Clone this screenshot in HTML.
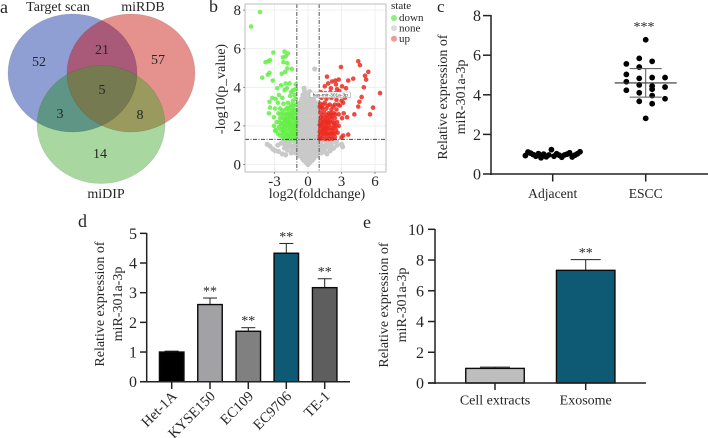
<!DOCTYPE html>
<html lang="en">
<head>
<meta charset="utf-8">
<title>miR-301a-3p expression figure</title>
<style>
html,body{margin:0;padding:0;background:#fff;width:708px;height:438px;overflow:hidden}
svg{display:block;font-family:"Liberation Serif",serif;fill:#333;filter:blur(.3px)}
text{fill:#262626}
</style>
</head>
<body>
<svg id="fig" width="708" height="438" viewBox="0 0 708 438" xmlns="http://www.w3.org/2000/svg">
  <defs>
    <clipPath id="clip-blue"><ellipse cx="72.5" cy="73" rx="64.5" ry="59"/></clipPath>
    <clipPath id="clip-red"><ellipse cx="131" cy="73" rx="64" ry="59"/></clipPath>
    <clipPath id="clip-green"><ellipse cx="101" cy="124.5" rx="64" ry="59"/></clipPath>
  </defs>
  <rect width="708" height="438" fill="#fff"/>

  <g id="panel-a">
    <text x="0" y="13" font-size="18">a</text>
    <ellipse cx="72.5" cy="73" rx="64.5" ry="59" fill="#8f9fd4"/>
    <ellipse cx="131" cy="73" rx="64" ry="59" fill="#e5928e"/>
    <ellipse cx="101" cy="124.5" rx="64" ry="59" fill="#a8d8a0"/>
    <g clip-path="url(#clip-blue)">
      <ellipse cx="131" cy="73" rx="64" ry="59" fill="#a85a78"/>
      <ellipse cx="101" cy="124.5" rx="64" ry="59" fill="#5f9585"/>
    </g>
    <g clip-path="url(#clip-red)">
      <ellipse cx="101" cy="124.5" rx="64" ry="59" fill="#9a9a5f"/>
      <g clip-path="url(#clip-blue)">
        <ellipse cx="101" cy="124.5" rx="64" ry="59" fill="#757a50"/>
      </g>
    </g>
    <g fill="none" stroke="#000" stroke-opacity=".1" stroke-width=".8">
      <ellipse cx="72.5" cy="73" rx="64.5" ry="59"/>
      <ellipse cx="131" cy="73" rx="64" ry="59"/>
      <ellipse cx="101" cy="124.5" rx="64" ry="59"/>
    </g>
    <g font-size="14" text-anchor="middle">
      <text x="58" y="11">Target scan</text>
      <text x="143" y="11">miRDB</text>
      <text x="106" y="198">miDIP</text>
      <text x="39" y="66">52</text>
      <text x="102" y="54">21</text>
      <text x="158" y="64">57</text>
      <text x="102" y="94">5</text>
      <text x="60" y="118">3</text>
      <text x="140" y="119">8</text>
      <text x="100" y="158">14</text>
    </g>
  </g>

  <g id="panel-b">
    <text x="209" y="12" font-size="18">b</text>
    <g id="b-grid"></g>
    <g id="b-none"></g>
    <g id="b-down"></g>
    <g id="b-up"></g>
    <g id="b-thresholds"></g>
    <rect x="245" y="4" width="141" height="168" fill="none" stroke="#bdbdbd" stroke-width="1"/>
    <g>
      <rect x="310" y="92" width="40.5" height="5.6" rx="1" fill="#fff" stroke="#aaa" stroke-width=".6"/>
      <text x="330.2" y="96.6" font-size="4.8" text-anchor="middle" style="font-family:'Liberation Sans',sans-serif">has-mir-301a-3p</text>
    </g>
    <g id="b-ticks" font-size="15"></g>
    <text x="317" y="198" font-size="14" text-anchor="middle">log2(foldchange)</text>
    <text transform="translate(225,89) rotate(-90)" font-size="14" text-anchor="middle">-log10(p_value)</text>
    <g font-size="11">
      <text x="391" y="9">state</text>
      <circle cx="394" cy="18" r="3" fill="#8cf07a"/>
      <text x="399" y="21">down</text>
      <circle cx="394" cy="28.3" r="3" fill="#dcdcdc"/>
      <text x="399" y="31.5">none</text>
      <circle cx="394" cy="38.7" r="3" fill="#ee9a96"/>
      <text x="399" y="42">up</text>
    </g>
  </g>

  <g id="panel-c">
    <text x="437" y="12" font-size="17">c</text>
    <g id="c-axes"></g>
    <g id="c-points"></g>
    <text transform="translate(447,97) rotate(-90)" font-size="14" text-anchor="middle">Relative expression of</text>
    <text transform="translate(465,97) rotate(-90)" font-size="14" text-anchor="middle">miR-301a-3p</text>
    <text x="644" y="31" font-size="14" text-anchor="middle">***</text>
  </g>

  <g id="panel-d">
    <text x="78" y="227" font-size="18">d</text>
    <g id="d-bars"></g>
    <g id="d-axes"></g>
    <text transform="translate(104,304) rotate(-90)" font-size="14" text-anchor="middle">Relative expression of</text>
    <text transform="translate(122,304) rotate(-90)" font-size="14" text-anchor="middle">miR-301a-3p</text>
  </g>

  <g id="panel-e">
    <text x="363" y="228" font-size="18">e</text>
    <g id="e-bars"></g>
    <g id="e-axes"></g>
    <text transform="translate(388,305) rotate(-90)" font-size="14" text-anchor="middle">Relative expression of</text>
    <text transform="translate(406,305) rotate(-90)" font-size="14" text-anchor="middle">miR-301a-3p</text>
  </g>
</svg>

<script>
/* ---------- Panel b: volcano data as [log2(foldchange), -log10(p)] ---------- */
const volcanoXTicks = [-3, 0, 3, 6];
const volcanoYTicks = [0, 2, 4, 6, 8];
const volcanoFcCutoffs = [-1, 1];
const volcanoPCutoff = 1.3;
const downPoints = [
[-5.1,7.15],[-4.3,7.9],[-3.1,5.8],[-3.8,5.3],[-3.55,5.35],[-3.4,5.4],[-2.1,5.85],[-1.8,5.75],[-2,5.6],[-2.25,5.55],
[-2.2,5.3],[-1.85,5.25],[-1.45,4.95],[-1.85,4.98],[-2.05,4.8],[-2.35,4.7],[-3.45,4.75],[-3.6,4.65],[-4.1,4.5],[-3.15,4.35],
[-1.1,4.15],[-1.65,4.2],[-2,4.2],[-2.4,4.1],[-1.1,3.9],[-1.35,3.85],[-1.5,3.75],[-1.9,3.95],[-2.1,3.85],[-2.75,3.95],
[-1.2,3.6],[-1.6,3.55],[-2.6,3.6],[-2.3,3.45],[-2.9,3.4],[-3.2,3.45],[-3.45,3.25],[-2.7,3.2],[-2.2,3.15],[-1.8,3.2],
[-1.35,3.3],[-1.1,3.1],[-3.4,2.95],[-2.95,2.9],[-2.5,2.9],[-2,2.85],[-1.6,2.95],[-1.25,2.85],[-3.5,2.65],[-2.65,2.65],
[-2.2,2.6],[-1.85,2.6],[-1.5,2.65],[-1.15,2.6],[-3.05,2.45],[-2.5,2.4],[-2.05,2.35],[-1.7,2.35],[-1.35,2.4],[-1.1,2.3],
[-2.8,2.2],[-2.3,2.15],[-1.9,2.15],[-1.55,2.15],[-1.2,2.1],[-3.05,2],[-2.6,1.95],[-2.15,1.95],[-1.75,1.95],[-1.4,1.95],
[-1.1,1.9],[-2.85,1.8],[-2.45,1.8],[-2.05,1.75],[-1.65,1.75],[-1.3,1.75],[-2.7,1.6],[-2.3,1.6],[-1.9,1.6],[-1.55,1.6],
[-1.2,1.6],[-2.95,1.75],[-2.5,1.5],[-2.1,1.48],[-1.75,1.45],[-1.4,1.45],[-1.1,1.42],[-1.95,1.35],[-1.6,1.33],[-1.25,1.33],
[-2.25,1.38],[-1.05,1.7],[-1.05,2.05],[-1.45,2.55],[-1.05,2.8],[-1.9,2.4],[-2.45,2.6],[-1.3,3.05],[-1.7,2.75],[-1.1,1.55],
[-1.25,1.5],[-1.5,1.5],[-1.85,1.52],[-2.2,1.7],[-1.45,1.68],[-1.15,1.8],[-1.5,1.85],[-1.85,1.85],[-2.25,1.85],[-1.25,2],
[-1.6,2.05],[-2,2.05],[-2.4,2.05],[-1.05,2.2],[-1.35,2.25],[-1.7,2.2],[-2.1,2.2],[-2.55,2.2],[-1.2,2.4],[-1.55,2.45],
[-1.85,2.3],[-2.25,2.4],[-1.25,2.65],[-1.6,2.55],[-2,2.6],[-1.4,2.8],[-1.85,2.95],[-2.3,2.8],[-1.1,3.4],[-1.5,3.1]
];
const upPoints = [
[4.5,5.35],[4.65,5.15],[2.95,5.05],[5.4,4.8],[5.1,4.6],[5.2,4.4],[1.7,4.55],[6.45,3.7],[5.82,2.95],[5.55,2.6],
[4.15,2.6],[4.8,3.5],[4.6,3.25],[4.5,3],[5,4],[4.05,4.45],[3.6,4.35],[2.75,4.4],[2.45,4.35],[2.15,4.3],
[1.8,4.2],[2.5,4.15],[1.5,4.05],[2.05,3.95],[2.6,3.9],[3.05,4.05],[3.4,3.95],[1.15,3.75],[1.55,3.7],[2,3.75],
[2.45,3.7],[2.85,3.65],[3.3,3.45],[1.2,3.45],[1.65,3.4],[2.1,3.45],[2.55,3.35],[3,3.3],[1.1,3.15],[1.5,3.2],
[1.95,3.1],[2.4,3.1],[2.85,3.05],[1.2,2.95],[1.65,2.9],[2.1,2.85],[2.55,2.85],[3.2,2.65],[3.5,2.45],[1.1,2.7],
[1.45,2.7],[1.85,2.65],[2.3,2.65],[2.75,2.6],[1.15,2.45],[1.55,2.45],[1.95,2.45],[2.4,2.4],[3.05,2.4],[1.1,2.25],
[1.45,2.25],[1.8,2.25],[2.2,2.2],[2.6,2.2],[1.2,2.05],[1.55,2.05],[1.9,2.05],[2.3,2],[2.75,2],[1.1,1.85],
[1.4,1.85],[1.75,1.85],[2.1,1.8],[2.5,1.8],[1.2,1.65],[1.55,1.65],[1.9,1.65],[2.25,1.62],[2.65,1.65],[1.05,1.48],
[1.35,1.48],[1.7,1.48],[2.05,1.45],[2.4,1.42],[3.15,1.5],[3.6,1.55],[3,1.4],[1.2,1.35],[1.55,1.33],[1.9,1.33],
[2.2,1.34],[1.05,2.05],[1.05,1.7],[1.3,2.9],[1.75,2.15],[2.15,2.55],[1.35,1.75],[1.6,1.95],[1.05,3],[1.9,3.55],
[1.05,1.35],[1.4,1.6],[1.75,1.58],[2.1,1.6],[2.4,1.6],[1.3,1.95],[1.6,1.78],[1.95,1.9],[2.25,1.85],[2.5,2],
[1.3,2.15],[1.6,2.2],[1.95,2.2],[2.35,2.15],[1.3,2.35],[1.7,2.35],[2.1,2.4],[2.45,2.6],[1.3,2.55],[1.7,2.55],
[2.05,2.65],[1.35,3.1],[1.75,3.05],[2.25,3],[1.4,3.6],[1.75,3.6],[2.2,3.6],[2.8,3.8],[3.15,3.2],[2.7,3.1]
];
const nonePoints = [
[0,0],[-.15,.1],[.15,.1],[-.35,.2],[0,.2],[.35,.2],[-.5,.3],[-.15,.3],[.2,.3],[.5,.3],
[-.8,.45],[-.4,.45],[0,.45],[.4,.45],[.8,.45],[-1.1,.6],[-.7,.6],[-.3,.6],[.1,.6],[.5,.6],[.9,.6],[1.2,.6],
[-1.4,.8],[-1,.8],[-.6,.8],[-.2,.8],[.2,.8],[.6,.8],[1,.8],[1.4,.8],
[-1.6,1],[-1.2,1],[-.8,1],[-.4,1],[0,1],[.4,1],[.8,1],[1.2,1],[1.6,1],
[-1.6,1.2],[-1.2,1.2],[-.8,1.2],[-.4,1.2],[0,1.2],[.4,1.2],[.8,1.2],[1.2,1.2],[1.6,1.2],
[-.85,1.4],[-.5,1.4],[-.15,1.4],[.2,1.4],[.55,1.4],[.88,1.4],
[-.85,1.6],[-.5,1.6],[-.15,1.6],[.2,1.6],[.55,1.6],[.88,1.6],
[-.85,1.8],[-.5,1.8],[-.15,1.8],[.2,1.8],[.55,1.8],[.88,1.8],
[-.85,2],[-.5,2],[-.15,2],[.2,2],[.55,2],[.88,2],
[-.85,2.2],[-.5,2.2],[-.15,2.2],[.2,2.2],[.55,2.2],[.88,2.2],
[-.85,2.4],[-.5,2.4],[-.15,2.4],[.2,2.4],[.55,2.4],[.88,2.4],
[-.85,2.6],[-.5,2.6],[-.15,2.6],[.2,2.6],[.55,2.6],[.88,2.6],
[-.85,2.8],[-.5,2.8],[-.15,2.8],[.2,2.8],[.55,2.8],[.88,2.8],
[-.8,3],[-.45,3],[-.1,3],[.25,3],[.6,3],[.88,3],
[-.7,3.2],[-.35,3.2],[0,3.2],[.35,3.2],[.7,3.2],
[-.55,3.4],[-.2,3.4],[.15,3.4],[.5,3.4],[-.45,3.6],[-.05,3.6],[.3,3.6],[-.3,3.8],[.15,3.78],
[.6,4.95],[-.35,3.95],[.7,3.6],
[-.67,1.5],[-.32,1.5],[.02,1.5],[.37,1.5],[.72,1.5],[-.67,1.9],[-.32,1.9],[.02,1.9],[.37,1.9],[.72,1.9],
[-.67,2.3],[-.32,2.3],[.02,2.3],[.37,2.3],[.72,2.3],[-.67,2.7],[-.32,2.7],[.02,2.7],[.37,2.7],[.72,2.7],
[-.6,3.1],[-.25,3.1],[.1,3.1],[.45,3.1],[-1,1.3],[-.6,1.1],[-.2,1.1],[.2,1.1],[.6,1.1],[1,1.3],
[-.8,.7],[-.4,.7],[0,.7],[.4,.7],[.8,.7],[-1.25,.9],[-.4,.9],[0,.9],[.4,.9],[1.25,.9],
[-3.65,1.05],[-3.4,.95],[-3.15,.8],[-2.95,.72],[-2.65,.68],[-2.3,.55],[-2,.5],[-1.8,.95],[-2.1,.85],[-2.4,1.1],
[-1.9,1.15],[-2.7,1.0],[-1.5,.6],[1.7,.55],[2,.72],[2.3,.85],[2.6,1],[3,1.05],[3.1,.92],[1.9,1.1],[2.2,1.15],[2.55,1.2],[1.55,.65],
[-2.05,1.05],[-1.85,.75],[-2.2,1.2],[1.8,.9],[2.05,.95],[1.75,1.2]
];

/* ---------- Panel c: scatter data ---------- */
const scatterCategories = ['Adjacent', 'ESCC'];
const scatterYTicks = [0, 2, 4, 6, 8];
const adjacentValues = [.93,1.11,1.05,.98,.9,1.03,.82,1,.87,.96,1.23,.9,1.02,.95,.85,.96,1.0,1.07,.86,.95,1.02,1.12];
const esccValues = [6.78,5.84,5.69,5.56,5.4,5.03,4.83,4.87,4.87,4.66,4.5,4.44,4.39,4.23,4.1,4.28,3.96,3.8,3.67,3.55,2.81];
const esccJitter = [0,-1,1,-3,-1,-3,-1,1,3,-3,-1,1,3,-3,-1,1,1,3,-1,1,0];
const esccMean = 4.6;
const esccSd = 0.72;

/* ---------- Panel d: cell line bars ---------- */
const cellLines = ['Het-1A', 'KYSE150', 'EC109', 'EC9706', 'TE-1'];
const cellLineValues = [1, 2.6, 1.7, 4.33, 3.17];
const cellLineErrors = [.03, .22, .12, .33, .3];
const cellLineStars = ['', '**', '**', '**', '**'];
const cellLineColors = ['#000000', '#a1a1a6', '#808080', '#0e5a75', '#5e5e5e'];
const cellLineYTicks = [0, 1, 2, 3, 4, 5];

/* ---------- Panel e: exosome bars ---------- */
const sources = ['Cell extracts', 'Exosome'];
const sourceValues = [.95, 7.33];
const sourceErrors = [.08, .7];
const sourceStars = ['', '**'];
const sourceColors = ['#bebebe', '#0e5a75'];
const sourceYTicks = [0, 2, 4, 6, 8, 10];

const NS = 'http://www.w3.org/2000/svg';
const $ = id => document.getElementById(id);
function mk(tag, parent, props) {
  const el = document.createElementNS(NS, tag);
  for (const k in props) el.setAttribute(k, props[k]);
  parent.appendChild(el);
  return el;
}
function addLine(parent, name, x1, y1, x2, y2, stroke, width, dash) {
  const el = mk('line', parent, {x1, y1, x2, y2, stroke, 'stroke-width': width});
  if (dash) el.setAttribute('stroke-dasharray', dash);
  
  
  return el;
}
function addText(parent, name, x, y, str, size, anchor) {
  const el = mk('text', parent, {x, y, 'font-size': size, 'text-anchor': anchor});
  el.textContent = str;
  
  
  return el;
}

/* Volcano */
const vx = v => 308 + 11.17 * v;
const vy = v => 164.5 - 19.3 * v;
volcanoXTicks.forEach(t => {
  addLine($('b-grid'), 'volcano-grid-x-' + t, vx(t), 4, vx(t), 172, '#ececec', .8);
  addLine($('b-ticks'), 'volcano-x-tick-' + t, vx(t), 172, vx(t), 174, '#777', .8);
  const label = t < 0 ? '-' + Math.abs(t) : String(t);
  addText($('b-ticks'), 'volcano-x-tick-label-' + t, vx(t), 186, label, 15, 'middle');
});
volcanoYTicks.forEach(t => {
  addLine($('b-grid'), 'volcano-grid-y-' + t, 245, vy(t), 386, vy(t), '#ececec', .8);
  addLine($('b-ticks'), 'volcano-y-tick-' + t, 243, vy(t), 245, vy(t), '#777', .8);
  addText($('b-ticks'), 'volcano-y-tick-label-' + t, 241, vy(t) + 5, String(t), 15, 'end');
});
function drawVolcano(points, group, color, opacity, r, name) {
  points.forEach(p => {
    const c = mk('circle', group, {cx: vx(p[0]), cy: vy(p[1]), r, fill: color, 'fill-opacity': opacity});
    
    
  });
}
drawVolcano(nonePoints, $('b-none'), '#c9c9c9', 1, 2.6, 'volcano-point-none');
drawVolcano(downPoints, $('b-down'), '#63ee45', .85, 2.3, 'volcano-point-down');
drawVolcano(upPoints, $('b-up'), '#ec2a20', .85, 2.3, 'volcano-point-up');
volcanoFcCutoffs.forEach(t => {
  addLine($('b-thresholds'), 'volcano-fc-cutoff-' + t, vx(t), 4, vx(t), 172, '#555', 1, '4 1.5 1 1.5');
});
addLine($('b-thresholds'), 'volcano-p-cutoff', 245, vy(volcanoPCutoff), 386, vy(volcanoPCutoff), '#444', 1, '4 1.5 1 1.5');

/* Scatter */
const cCat = [552.7, 645.7];
const cy = v => 174 - 19.8 * v;
addLine($('c-axes'), 'scatter-y-axis', 491, 15, 491, 175, '#222', 1.5);
addLine($('c-axes'), 'scatter-x-axis', 490, 174, 708, 174, '#222', 1.5);
scatterYTicks.forEach(t => {
  addLine($('c-axes'), 'scatter-y-tick-' + t, 483, cy(t), 491, cy(t), '#222', 1.5);
  addText($('c-axes'), 'scatter-y-tick-label-' + t, 481, cy(t) + 5.5, String(t), 16, 'end');
});
scatterCategories.forEach((c, i) => {
  addLine($('c-axes'), 'scatter-x-tick-' + c, cCat[i], 174, cCat[i], 181.5, '#222', 1.5);
  addText($('c-axes'), 'scatter-x-tick-label-' + c, cCat[i], 198, c, 13.6, 'middle');
});
adjacentValues.forEach((v, i) => {
  const c = mk('circle', $('c-points'), {cx: cCat[0] + (i - (adjacentValues.length - 1) / 2) * 2.6, cy: cy(v), r: 2.9, fill: '#000'});
  
  
});
esccValues.forEach((v, i) => {
  const c = mk('circle', $('c-points'), {cx: cCat[1] + esccJitter[i] * 6.45, cy: cy(v), r: 2.9, fill: '#000'});
  
  
});
addLine($('c-points'), 'scatter-mean-escc', cCat[1] - 31, cy(esccMean), cCat[1] + 31, cy(esccMean), '#333', 1.2);
addLine($('c-points'), 'scatter-sd-stem-escc', cCat[1], cy(esccMean + esccSd), cCat[1], cy(esccMean - esccSd), '#555', 1);
addLine($('c-points'), 'scatter-sd-upper-escc', cCat[1] - 16, cy(esccMean + esccSd), cCat[1] + 16, cy(esccMean + esccSd), '#555', 1);
addLine($('c-points'), 'scatter-sd-lower-escc', cCat[1] - 16, cy(esccMean - esccSd), cCat[1] + 16, cy(esccMean - esccSd), '#555', 1);

/* Bars */
function drawBars(cfg) {
  cfg.categories.forEach((c, i) => {
    const x = cfg.x[i], v = cfg.values[i], top = cfg.y(v), err = cfg.y(v + cfg.errors[i]);
    addLine(cfg.barGroup, cfg.prefix + '-error-stem-' + c, x, top, x, err, '#222', 1);
    addLine(cfg.barGroup, cfg.prefix + '-error-cap-' + c, x - cfg.cap, err, x + cfg.cap, err, '#222', 1);
    const b = mk('rect', cfg.barGroup, {x: x - cfg.w / 2, y: top, width: cfg.w, height: cfg.y(0) - top, fill: cfg.colors[i], stroke: '#0a0a0a', 'stroke-width': 1.4});
    
    
    if (cfg.stars[i]) addText(cfg.barGroup, cfg.prefix + '-significance-' + c, x, err - 2.5, cfg.stars[i], 14, 'middle');
  });
}

/* Panel d */
const dX = [171.7, 210, 248.3, 286.3, 324.7];
const dY = v => 381.7 - 29.67 * v;
drawBars({categories: cellLines, x: dX, values: cellLineValues, errors: cellLineErrors, stars: cellLineStars, colors: cellLineColors, y: dY, w: 24.5, cap: 7, barGroup: $('d-bars'), prefix: 'cell-line'});
addLine($('d-axes'), 'cell-line-y-axis', 146.7, 233, 146.7, 382.5, '#222', 1.5);
addLine($('d-axes'), 'cell-line-x-axis', 140, 381.7, 350, 381.7, '#222', 1.5);
cellLineYTicks.forEach(t => {
  addLine($('d-axes'), 'cell-line-y-tick-' + t, 140, dY(t), 146.7, dY(t), '#222', 1.5);
  addText($('d-axes'), 'cell-line-y-tick-label-' + t, 137, dY(t) + 5.5, String(t), 16, 'end');
});
cellLines.forEach((c, i) => {
  addLine($('d-axes'), 'cell-line-x-tick-' + c, dX[i], 381.7, dX[i], 389, '#222', 1.5);
  const lab = addText($('d-axes'), 'cell-line-x-tick-label-' + c, 0, 0, c, 14.5, 'end');
  lab.setAttribute('transform', 'translate(' + (dX[i] + 6) + ',397) rotate(-45)');
});

/* Panel e */
const eX = [495, 585.7];
const eY = v => 383 - 15.37 * v;
drawBars({categories: sources, x: eX, values: sourceValues, errors: sourceErrors, stars: sourceStars, colors: sourceColors, y: eY, w: 58.5, cap: 15, barGroup: $('e-bars'), prefix: 'exosome'});
addLine($('e-axes'), 'exosome-y-axis', 435, 229, 435, 384, '#222', 1.5);
addLine($('e-axes'), 'exosome-x-axis', 428, 383, 646, 383, '#222', 1.5);
sourceYTicks.forEach(t => {
  addLine($('e-axes'), 'exosome-y-tick-' + t, 428, eY(t), 435, eY(t), '#222', 1.5);
  addText($('e-axes'), 'exosome-y-tick-label-' + t, 424, eY(t) + 5.5, String(t), 16, 'end');
});
sources.forEach((c, i) => {
  addLine($('e-axes'), 'exosome-x-tick-' + c, eX[i], 383, eX[i], 390, '#222', 1.5);
  addText($('e-axes'), 'exosome-x-tick-label-' + c, eX[i], 404.5, c, 14, 'middle');
});
</script>
</body>
</html>
